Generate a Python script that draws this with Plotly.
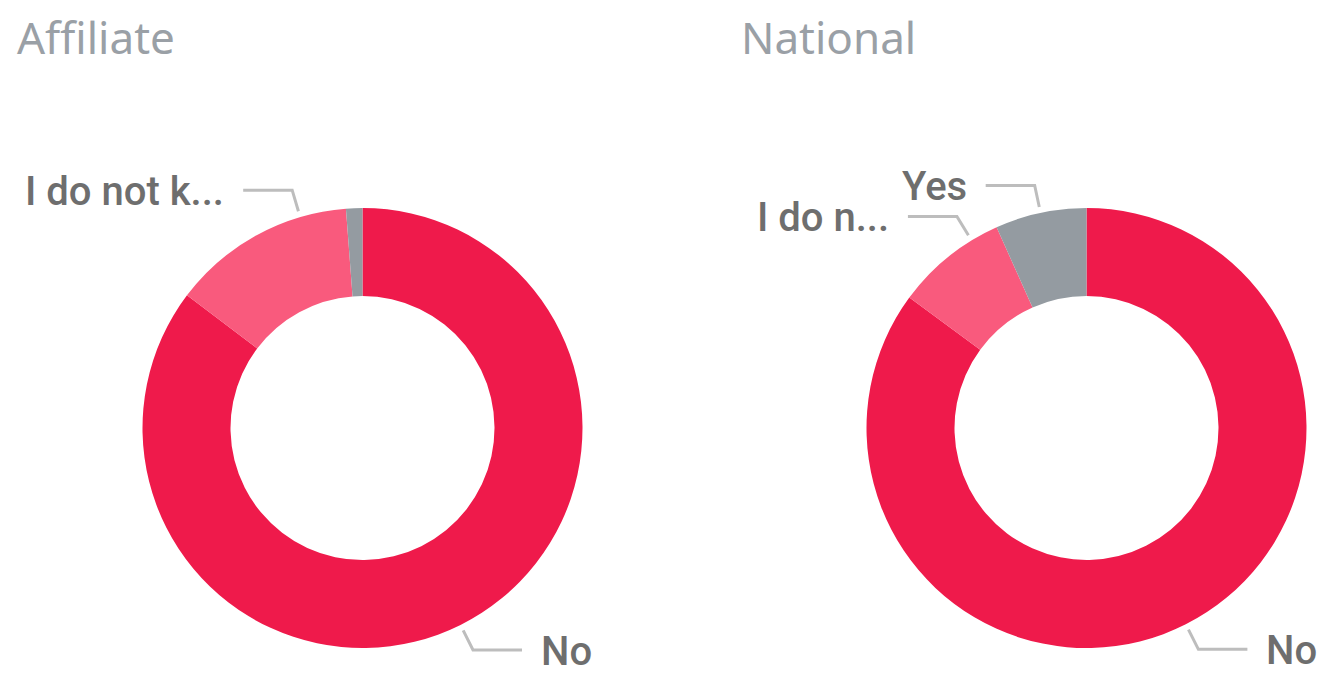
import math
import plotly.graph_objects as go

# Survey answers, share of responses per group
categories = ["No", "I do not know", "Yes"]
affiliate_values = [85.3, 13.5, 1.2]
national_values = [85.1, 8.2, 6.7]
# Label text shown next to each slice (None = no label drawn)
affiliate_labels = ["No", "I do not k...", None]
national_labels = ["No", "I do n...", "Yes"]

colors = ["#EF1A4B", "#F95A7D", "#949BA1"]

W, H = 1332, 689
R = 220          # outer radius in px
CY = 428         # vertical centre of both donuts in px
CENTERS_X = [362.5, 1086.5]

fig = go.Figure()


def px_x(x):
    return x / W


def px_y(y):
    return 1 - y / H


groups = [
    ("Affiliate", affiliate_values, affiliate_labels),
    ("National", national_values, national_labels),
]

# where along each slice (clockwise) the leader line leaves the ring
anchor_frac = [0.5, 0.75, 0.5]

shapes = []
annotations = []

for (title, values, labels), cx in zip(groups, CENTERS_X):
    fig.add_trace(go.Pie(
        labels=categories,
        values=values,
        hole=0.6,
        sort=False,
        direction="clockwise",
        rotation=0,
        marker=dict(colors=colors, line=dict(width=0)),
        textinfo="none",
        hoverinfo="label+percent",
        showlegend=False,
        domain=dict(x=[px_x(cx - R), px_x(cx + R)],
                    y=[px_y(CY + R), px_y(CY - R)]),
    ))

    total = sum(values)
    cum = 0.0
    for i, (v, lab) in enumerate(zip(values, labels)):
        start = cum / total
        cum += v
        end = cum / total
        if lab is None:
            continue
        frac = start + (end - start) * anchor_frac[i]
        ang = frac * 2 * math.pi   # clockwise from 12 o'clock
        sx, sy = math.sin(ang), -math.cos(ang)
        x0, y0 = cx + 226 * sx, CY + 226 * sy
        x1, y1 = cx + 248 * sx, CY + 248 * sy
        side = 1 if sx >= 0 else -1
        x2 = x1 + side * 49
        path = (f"M {px_x(x0)},{px_y(y0)} L {px_x(x1)},{px_y(y1)} "
                f"L {px_x(x2)},{px_y(y1)}")
        shapes.append(dict(type="path", path=path, xref="paper", yref="paper",
                           line=dict(color="#BDBDBD", width=3)))
        annotations.append(dict(
            text=lab, x=px_x(x2 + side * 17), y=px_y(y1),
            xref="paper", yref="paper", showarrow=False,
            xanchor="left" if side > 0 else "right", yanchor="middle",
            yshift=-1,
            font=dict(family="Roboto", size=40, color="#6E6E6E", weight=500),
        ))

    # group title above each donut
    annotations.append(dict(
        text=title, x=px_x(cx - 362.5 + 15), y=px_y(37),
        xref="paper", yref="paper", showarrow=False,
        xanchor="left", yanchor="middle",
        font=dict(family="Noto Sans", size=44, color="#9AA0A6"),
    ))

fig.update_layout(
    width=W, height=H,
    margin=dict(l=0, r=0, t=0, b=0),
    paper_bgcolor="white",
    plot_bgcolor="white",
    shapes=shapes,
    annotations=annotations,
)

fig.write_html("out.html")
